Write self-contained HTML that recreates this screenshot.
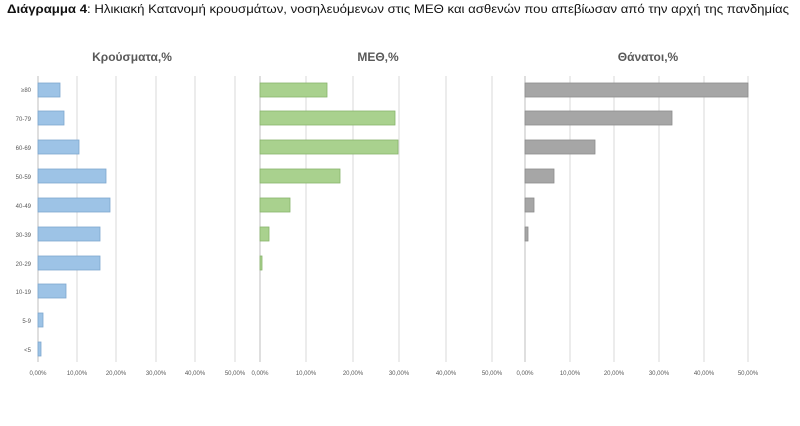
<!DOCTYPE html><html><head><meta charset="utf-8"><style>body{margin:0;background:#fff}svg{display:block}</style></head><body>
<svg width="800" height="426" xmlns="http://www.w3.org/2000/svg" font-family="Liberation Sans, sans-serif">
<text x="7" y="13" font-size="12" fill="#111" textLength="782" lengthAdjust="spacingAndGlyphs"><tspan font-weight="bold">Διάγραμμα 4</tspan>: Ηλικιακή Κατανομή κρουσμάτων, νοσηλευόμενων στις ΜΕΘ και ασθενών που απεβίωσαν από την αρχή της πανδημίας</text>
<g font-size="12" font-weight="bold" fill="#595959" text-anchor="middle">
<text x="132" y="61">Κρούσματα,%</text><text x="378" y="61">ΜΕΘ,%</text><text x="648" y="61">Θάνατοι,%</text></g>
<g stroke="#d9d9d9" stroke-width="1">
<line x1="77" y1="76" x2="77" y2="362"/><line x1="116" y1="76" x2="116" y2="362"/><line x1="156" y1="76" x2="156" y2="362"/><line x1="195" y1="76" x2="195" y2="362"/><line x1="235" y1="76" x2="235" y2="362"/>
<line x1="306" y1="76" x2="306" y2="362"/><line x1="353" y1="76" x2="353" y2="362"/><line x1="399" y1="76" x2="399" y2="362"/><line x1="446" y1="76" x2="446" y2="362"/><line x1="492" y1="76" x2="492" y2="362"/>
<line x1="570" y1="76" x2="570" y2="362"/><line x1="614" y1="76" x2="614" y2="362"/><line x1="659" y1="76" x2="659" y2="362"/><line x1="704" y1="76" x2="704" y2="362"/><line x1="748" y1="76" x2="748" y2="362"/>
</g>
<g stroke="#bfbfbf"><line x1="38" y1="76" x2="38" y2="362"/><line x1="260" y1="76" x2="260" y2="362"/><line x1="525" y1="76" x2="525" y2="362"/></g>
<g font-size="6" fill="#595959" text-anchor="end">
<text x="31" y="92">≥80</text><text x="31" y="121">70-79</text><text x="31" y="150">60-69</text><text x="31" y="179">50-59</text><text x="31" y="208">40-49</text><text x="31" y="237">30-39</text><text x="31" y="266">20-29</text><text x="31" y="294">10-19</text><text x="31" y="323">5-9</text><text x="31" y="352">&lt;5</text></g>
<g fill="#9dc3e6" stroke="#7fa7cf" stroke-width="0.8">
<rect x="38" y="83" width="22" height="14"/><rect x="38" y="111" width="26" height="14"/><rect x="38" y="140" width="41" height="14"/><rect x="38" y="169" width="68" height="14"/><rect x="38" y="198" width="72" height="14"/><rect x="38" y="227" width="62" height="14"/><rect x="38" y="256" width="62" height="14"/><rect x="38" y="284" width="28" height="14"/><rect x="38" y="313" width="5" height="14"/><rect x="38" y="342" width="3" height="14"/></g>
<g fill="#a9d18e" stroke="#88b46c" stroke-width="0.8">
<rect x="260" y="83" width="67" height="14"/><rect x="260" y="111" width="135" height="14"/><rect x="260" y="140" width="138" height="14"/><rect x="260" y="169" width="80" height="14"/><rect x="260" y="198" width="30" height="14"/><rect x="260" y="227" width="9" height="14"/><rect x="260" y="256" width="2" height="14"/></g>
<g fill="#a6a6a6" stroke="#8c8c8c" stroke-width="0.8">
<rect x="525" y="83" width="223" height="14"/><rect x="525" y="111" width="147" height="14"/><rect x="525" y="140" width="70" height="14"/><rect x="525" y="169" width="29" height="14"/><rect x="525" y="198" width="9" height="14"/><rect x="525" y="227" width="3" height="14"/></g>
<g font-size="6" fill="#595959" text-anchor="middle">
<text x="38" y="375">0,00%</text><text x="77" y="375">10,00%</text><text x="116" y="375">20,00%</text><text x="156" y="375">30,00%</text><text x="195" y="375">40,00%</text><text x="235" y="375">50,00%</text>
<text x="260" y="375">0,00%</text><text x="306" y="375">10,00%</text><text x="353" y="375">20,00%</text><text x="399" y="375">30,00%</text><text x="446" y="375">40,00%</text><text x="492" y="375">50,00%</text>
<text x="525" y="375">0,00%</text><text x="570" y="375">10,00%</text><text x="614" y="375">20,00%</text><text x="659" y="375">30,00%</text><text x="704" y="375">40,00%</text><text x="748" y="375">50,00%</text></g>
</svg></body></html>
